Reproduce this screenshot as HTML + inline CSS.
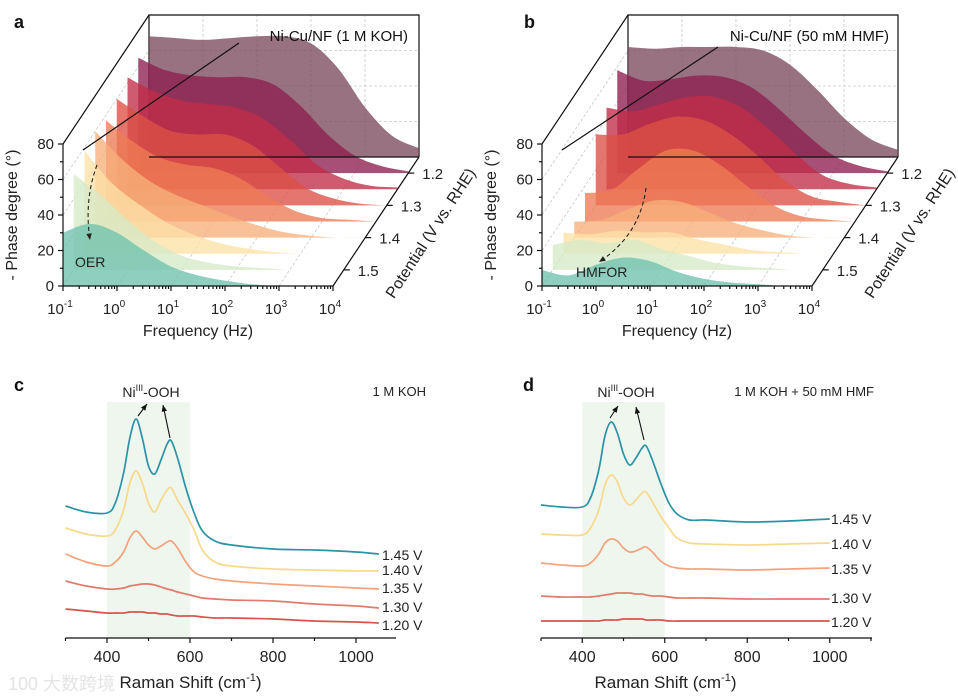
<!DOCTYPE html>
<html><head><meta charset="utf-8"><style>
body{margin:0;background:#fff}
svg{display:block;font-family:"Liberation Sans",Arial,sans-serif}
</style></head><body>
<svg id="fig" width="958" height="699" viewBox="0 0 958 699" xmlns="http://www.w3.org/2000/svg"></svg>
<script>
// ===== Panel a/b data =====
const logFreq = [-1,-0.5,0,0.5,1,1.5,2,2.5,3,3.5,4];
const xTickExp = ["-1","0","1","2","3","4"];
const phaseTicks = [0,20,40,60,80];
const potTicks = ["1.2","1.3","1.4","1.5"];
const potTickDepth = [7,5,3,1];
const layerColors = ["#6fc1ae","#d6ebc8","#fce2a6","#f7b07a","#ee7b54","#dd4f44","#c22d48","#8e1f4f","#7b4a5c"];
const phaseA0=[30,35,30,20,11,6,3,1,0,0,0];
const phaseA1=[54,42,28,16,8,4,2,1,0,0,0];
const phaseA2=[58,40,28,18,11,6,3,1,0,0,0];
const phaseA3=[60,44,32,24,18,12,7,3,1,0,0];
const phaseA4=[57,45,36,32,30,24,14,6,2,1,0];
const phaseA5=[60,50,42,40,40,34,22,10,4,1,0];
const phaseA6=[63,55,50,48,46,40,28,14,6,2,1];
const phaseA7=[65,58,55,54,54,50,38,22,10,4,1];
const phaseA8=[68,67,66,67,68,68,64,50,28,12,5];
const phaseB0=[9,6,12,16,14,8,4,2,1,0,0];
const phaseB1=[14,17,15,17,12,8,4,2,1,0,0];
const phaseB2=[12,11,13,12,12,8,5,2,1,0,0];
const phaseB3=[9,10,16,21,20,14,8,4,1,0,0];
const phaseB4=[16,18,30,40,40,32,20,9,3,1,0];
const phaseB5=[40,40,46,50,48,40,28,14,5,2,0];
const phaseB6=[46,44,48,52,52,46,34,20,8,3,1];
const phaseB7=[58,52,53,55,54,48,36,22,10,4,1];
const phaseB8=[62,61,62,62,62,60,52,38,22,10,4];
const seriesA=[phaseA0,phaseA1,phaseA2,phaseA3,phaseA4,phaseA5,phaseA6,phaseA7,phaseA8];
const seriesB=[phaseB0,phaseB1,phaseB2,phaseB3,phaseB4,phaseB5,phaseB6,phaseB7,phaseB8];

// ===== Panel c/d data =====
const ramanC=[300,350,400,420,440,455,470,485,500,515,530,545,555,570,590,610,630,660,700,800,900,1000,1055];
const c145=[132,126,125,135,165,200,219,200,172,164,178,194,197,180,150,125,107,97,93,89,88,86,84];
const c140=[110,104,102,108,128,155,167,155,135,126,138,148,150,138,124,108,88,76,72,69,68,67,67];
const c135=[84,76,72,76,86,100,107,101,93,89,92,96,97,90,76,66,62,59,57,54,52,50,49];
const c130=[57,52,49,49,50,52,53,54,54,53,51,49,48,46,44,42,40,39,38,37,34,32,30];
const c120=[29,27,25,25,25,26,26,26,25,25,24,24,23,22,22,22,21,20,20,19,17,16,15];
const ramanD=[300,350,400,420,440,455,470,485,500,515,530,545,555,570,590,610,630,660,700,800,900,1000];
const d145=[133,131,131,140,168,202,216,205,184,173,180,190,192,178,155,135,124,118,118,116,117,119];
const d140=[104,103,103,110,128,153,163,156,140,133,138,145,146,136,122,110,100,95,94,93,94,95];
const d135=[75,73,72,75,84,95,99,97,90,86,87,90,91,86,77,72,70,69,69,68,69,70];
const d130=[42,41,41,41,42,43,44,45,45,45,44,44,43,42,42,41,40,40,40,39,39,39];
const d120=[17,17,17,17,17,18,18,18,19,19,19,19,18,18,18,17,17,17,17,17,17,17];
const ramanLabels=["1.45 V","1.40 V","1.35 V","1.30 V","1.20 V"];
const ramanColors=["#2a93a6","#f8d98c","#f3a27c","#e27a6c","#d9524c"];
const ramanTicks=[400,600,800,1000];

const NS="http://www.w3.org/2000/svg";
const fig=document.getElementById('fig');
function el(tag,attrs,parent,text){const e=document.createElementNS(NS,tag);for(const k in attrs)e.setAttribute(k,attrs[k]);if(text!==undefined)e.textContent=text;(parent||fig).appendChild(e);return e;}
function smooth(pts){let d=`M${pts[0][0]},${pts[0][1]}`;for(let i=0;i<pts.length-1;i++){const p0=pts[Math.max(0,i-1)],p1=pts[i],p2=pts[i+1],p3=pts[Math.min(pts.length-1,i+2)];const c1=[p1[0]+(p2[0]-p0[0])/6,p1[1]+(p2[1]-p0[1])/6],c2=[p2[0]-(p3[0]-p1[0])/6,p2[1]-(p3[1]-p1[1])/6];d+=` C${c1[0]},${c1[1]} ${c2[0]},${c2[1]} ${p2[0]},${p2[1]}`;}return d;}

function panel3d(ox,series,letter,title,titleX,lineFrom,arrow,lab,labX,labY){
  const g=el('g',{});
  
  
  const oy=286,W=270,DX=86,DY=129,dec=54,degPx=1.775,N=8;
  const fx=l=>ox+(l+1)*dec, fy=v=>oy-v*degPx;
  const grid=el('g',{stroke:'#c8c8c8','stroke-width':0.8,'stroke-dasharray':'3,2',fill:'none'},g);
  
  for(let k=0;k<=5;k++){const x=fx(k-1);el('line',{x1:x,y1:oy,x2:x+DX,y2:oy-DY},grid);el('line',{x1:x+DX,y1:oy-DY,x2:x+DX,y2:oy-DY-142},grid);}
  phaseTicks.forEach(t=>{const y=fy(t);el('line',{x1:ox,y1:y,x2:ox+DX,y2:y-DY},grid);el('line',{x1:ox+DX,y1:y-DY,x2:ox+DX+W,y2:y-DY},grid);});
  el('polyline',{points:`${ox},${fy(80)} ${ox+DX},${fy(80)-DY} ${ox+DX+W},${fy(80)-DY} ${ox+DX+W},${oy-DY}`,fill:'none',stroke:'#111','stroke-width':1.2},g);
  el('line',{x1:ox+DX,y1:fy(80)-DY,x2:ox+DX,y2:oy-DY,stroke:'#111','stroke-width':1.2},g);
  for(let d=N;d>=0;d--){
    const vals=series[d];const sx=d*DX/N, sy=-d*DY/N;
    const pts=logFreq.map((l,i)=>[fx(l)+sx,fy(vals[i])+sy]);
    const base=oy+sy;
    let p=`M${fx(-1)+sx},${base} L${pts[0][0]},${pts[0][1]} `+smooth(pts).replace(/^M[^C]*/,'')+` L${fx(4)+sx},${base} Z`;
    const path=el('path',{d:p,fill:layerColors[d],'fill-opacity':0.78},g);
    
    
  }
  el('line',{x1:ox+DX,y1:oy-DY,x2:ox+DX+W,y2:oy-DY,stroke:'#111','stroke-width':1.2},g);
  const ax=el('g',{stroke:'#111','stroke-width':1.2},g);
  el('line',{x1:ox,y1:fy(80),x2:ox,y2:oy},ax);
  el('line',{x1:ox,y1:oy,x2:ox+W,y2:oy},ax);
  el('line',{x1:ox+W,y1:oy,x2:ox+W+DX,y2:oy-DY},ax);
  phaseTicks.forEach(t=>{el('line',{x1:ox-5,y1:fy(t),x2:ox,y2:fy(t)},ax);if(t<80)el('line',{x1:ox-3,y1:fy(t+10),x2:ox,y2:fy(t+10)},ax);
    const tl=el('text',{x:ox-9,y:fy(t)+5,'text-anchor':'end','font-size':15,fill:'#222',stroke:'none'},g,String(t));
    });
  xTickExp.forEach((e,k)=>{const x=fx(k-1);el('line',{x1:x,y1:oy,x2:x,y2:oy+5},ax);
    if(k<5)for(let m=2;m<10;m++){const xm=x+Math.log10(m)*dec;el('line',{x1:xm,y1:oy,x2:xm,y2:oy+3},ax);}
    const t=el('text',{x:x-3,y:oy+28,'text-anchor':'middle','font-size':15,fill:'#222'},g);
    
    el('tspan',{},t,'10');el('tspan',{dy:-7,'font-size':10},t,e);});
  potTicks.forEach((p,i)=>{const d=potTickDepth[i];const x=ox+W+d*DX/N,y=oy-d*DY/N;
    el('line',{x1:x,y1:y,x2:x+6,y2:y},ax);
    const t=el('text',{x:x+14,y:y+6,'font-size':15,fill:'#222'},g,p);
    });
  const yt=el('text',{x:0,y:0,transform:`translate(${ox-46},${fy(40)}) rotate(-90)`,'text-anchor':'middle','font-size':16,fill:'#222'},g,'- Phase degree (°)');
  
  const xt=el('text',{x:ox+W/2,y:336,'text-anchor':'middle','font-size':16,fill:'#222'},g,'Frequency (Hz)');
  
  const pt=el('text',{x:0,y:0,transform:`translate(${ox+372},${236}) rotate(-57)`,'text-anchor':'middle','font-size':16,fill:'#222'},g,'Potential (V vs. RHE)');
  
  el('line',{x1:lineFrom[0],y1:lineFrom[1],x2:ox+20,y2:150,stroke:'#111','stroke-width':1.2},g);
  const tt=el('text',{x:titleX,y:41,'text-anchor':'end','font-size':15,fill:'#111','xml:space':'preserve'},g,title);
  
  el('path',{d:arrow,fill:'none',stroke:'#222','stroke-width':1.1,'stroke-dasharray':'4,3'},g);
  const ap=arrow.match(/[-\d.]+/g).map(Number);const ex=ap[ap.length-2],ey=ap[ap.length-1],px=ap[ap.length-4],py=ap[ap.length-3];
  const ang=Math.atan2(ey-py,ex-px);
  el('path',{d:`M${ex},${ey} L${ex-7*Math.cos(ang-0.4)},${ey-7*Math.sin(ang-0.4)} L${ex-7*Math.cos(ang+0.4)},${ey-7*Math.sin(ang+0.4)} Z`,fill:'#222'},g);
  const lt=el('text',{x:labX,y:labY,'font-size':14,fill:'#222'},g,lab);
  
  const L=el('text',{x:letter==='a'?14:524,y:28,'font-size':18,'font-weight':'bold',fill:'#111'},g,letter);
  
}
panel3d(63,seriesA,'a','Ni-Cu/NF  (1 M KOH)',408,[239,43],'M97,165 Q84,200 90,240','OER',75,267);
panel3d(542,seriesB,'b','Ni-Cu/NF  (50 mM HMF)',889,[718,47],'M646,188 Q640,235 599,262','HMFOR',576,277);

function raman(letter,x300,pxPer200,axEnd,xs,ser,title,titleX,nix,arrows,labX,labYs){
  const g=el('g',{});
  
  
  const axY=638, sx=v=>x300+(v-300)*pxPer200/200;
  const hl=el('rect',{x:sx(400),y:402,width:sx(600)-sx(400),height:axY-402,fill:'#eef6ee'},g);
  
  ser.forEach((s,i)=>{const pts=xs.map((v,j)=>[sx(v),axY-s[j]]);
    const pl=el('path',{d:smooth(pts),fill:'none',stroke:ramanColors[i],'stroke-width':1.7,'stroke-linejoin':'round'},g);
    
    
    const t=el('text',{x:labX,y:labYs[i]+5,'font-size':14,fill:'#222'},g,ramanLabels[i]);
    });
  el('line',{x1:x300,y1:axY,x2:axEnd,y2:axY,stroke:'#111','stroke-width':1.3},g);
  for(let v=300;sx(v)<=axEnd+1;v+=100){el('line',{x1:sx(v),y1:axY,x2:sx(v),y2:axY+(v%200===0?5:3),stroke:'#111','stroke-width':1.2},g);}
  ramanTicks.forEach(v=>{const t=el('text',{x:sx(v),y:axY+24,'text-anchor':'middle','font-size':16,fill:'#222'},g,String(v));
    });
  const xt=el('text',{x:sx(500)+42,y:688,'text-anchor':'middle','font-size':17,fill:'#222'},g);
  
  el('tspan',{},xt,'Raman Shift (cm');el('tspan',{dy:-7,'font-size':11},xt,'-1');el('tspan',{dy:7},xt,')');
  const tt=el('text',{x:titleX,y:396,'text-anchor':'end','font-size':13,fill:'#222'},g,title);
  
  const nt=el('text',{x:nix,y:397,'text-anchor':'middle','font-size':14,fill:'#222'},g);
  
  el('tspan',{},nt,'Ni');el('tspan',{dy:-6,'font-size':9},nt,'III');el('tspan',{dy:6},nt,'-OOH');
  arrows.forEach(a=>{el('line',{x1:a[0],y1:a[1],x2:a[2],y2:a[3],stroke:'#111','stroke-width':1.1},g);
    const ang=Math.atan2(a[3]-a[1],a[2]-a[0]);
    el('path',{d:`M${a[2]},${a[3]} L${a[2]-7*Math.cos(ang-0.4)},${a[3]-7*Math.sin(ang-0.4)} L${a[2]-7*Math.cos(ang+0.4)},${a[3]-7*Math.sin(ang+0.4)} Z`,fill:'#111'},g);});
  const L=el('text',{x:letter==='c'?14:523,y:391,'font-size':18,'font-weight':'bold',fill:'#111'},g,letter);
  
}
raman('c',65.5,83,396,ramanC,[c145,c140,c135,c130,c120],'1 M KOH',426,151,[[138,416,147,404],[170,438,163,405]],382,[555,570,588,607,625]);
raman('d',541,82.5,872,ramanD,[d145,d140,d135,d130,d120],'1 M KOH + 50 mM HMF',874,626,[[610,418,618,406],[644,440,636,407]],831,[519,544,569,598,622]);
const wm=el('text',{x:8,y:690,'font-size':18,fill:'#e4e4e4','font-family':'"Liberation Sans","Noto Sans CJK SC",sans-serif'},fig,'100 大数跨境');


</script>
</body></html>
